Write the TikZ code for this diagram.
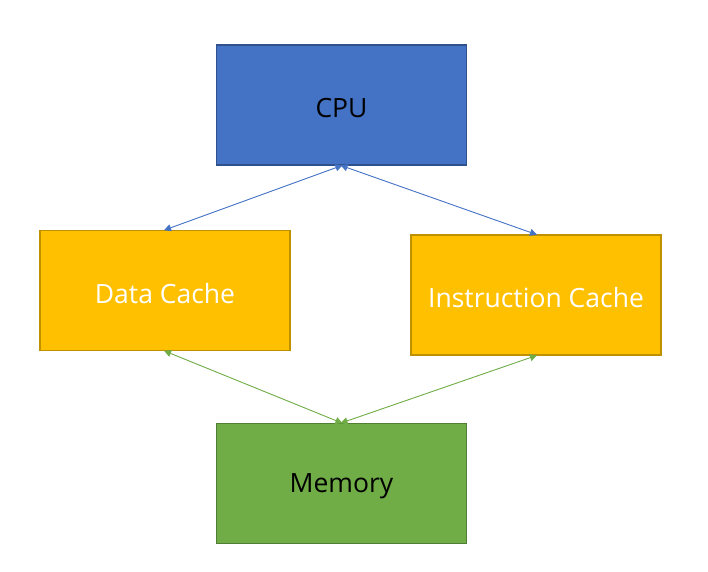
\documentclass[tikz,border=0pt]{standalone}
\usepackage{fontspec}
\setmainfont{Open Sans}
\usetikzlibrary{arrows.meta}
\definecolor{cpublue}{HTML}{4472C4}
\definecolor{cpuedge}{HTML}{2F528F}
\definecolor{cachey}{HTML}{FFC000}
\definecolor{cacheedge}{HTML}{BF9000}
\definecolor{memg}{HTML}{70AD47}
\definecolor{memedge}{HTML}{507E32}
\tikzset{
  box/.style={draw, line width=1.3pt, minimum width=250pt, minimum height=120pt, inner sep=0pt},
  lbl/.style={inner sep=0pt, font=\fontsize{26.5}{30}\selectfont, yshift=-3pt},
  link/.style={line width=0.9pt, {Triangle[length=7pt,width=7pt]}-{Triangle[length=7pt,width=7pt]}, shorten <=-1pt, shorten >=-1pt},
}
\begin{document}
\begin{tikzpicture}[x=1pt,y=-1pt]
\useasboundingbox (0,0) rectangle (708,571);
\fill[white] (0,0) rectangle (708,571);
\node[box, fill=cpublue, draw=cpuedge] (cpu) at (341.5,105) {};
\node[box, fill=cachey, draw=cacheedge] (dc) at (165,290.5) {};
\node[box, fill=cachey, draw=cacheedge] (ic) at (536,295) {};
\node[box, fill=memg, draw=memedge] (mem) at (341.5,483.5) {};
\node[lbl, text=black] (cput) at (cpu.center) {CPU};
\node[lbl, text=white] (dct) at (dc.center) {Data Cache};
\node[lbl, text=white] (ict) at (ic.center) {Instruction Cache};
\node[lbl, text=black] (memt) at (mem.center) {Memory};
\draw[link, cpublue] (cpu.south) -- (dc.north);
\draw[link, cpublue] (cpu.south) -- (ic.north);
\draw[link, memg] (dc.south) -- (mem.north);
\draw[link, memg] (ic.south) -- (mem.north);
\end{tikzpicture}
\end{document}
